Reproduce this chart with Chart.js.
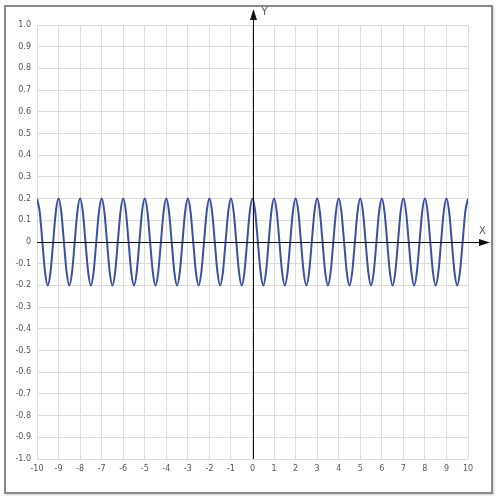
<!DOCTYPE html>
<html>
<head>
<meta charset="utf-8">
<script src="https://cdn.jsdelivr.net/npm/chart.js@4/dist/chart.umd.min.js"></script>
<style>
  html, body { margin: 0; padding: 0; background: #fff; }
  #wrap { position: relative; width: 500px; height: 500px; }
  #frame { position: absolute; left: 4px; top: 5px; width: 485px; height: 485px; border: 2px solid #8a8a8a; box-shadow: 1px 1px 2px #ccc; }
  canvas { position: absolute; left: 0; top: 0; }
</style>
</head>
<body>
<div id="wrap">
  <div id="frame"></div>
  <canvas id="chart" width="500" height="500"></canvas>
</div>
<script>
// points, every 1/8 unit
const xValues = [
  -10, -9.875, -9.75, -9.625, -9.5, -9.375, -9.25, -9.125,
  -9, -8.875, -8.75, -8.625, -8.5, -8.375, -8.25, -8.125,
  -8, -7.875, -7.75, -7.625, -7.5, -7.375, -7.25, -7.125,
  -7, -6.875, -6.75, -6.625, -6.5, -6.375, -6.25, -6.125,
  -6, -5.875, -5.75, -5.625, -5.5, -5.375, -5.25, -5.125,
  -5, -4.875, -4.75, -4.625, -4.5, -4.375, -4.25, -4.125,
  -4, -3.875, -3.75, -3.625, -3.5, -3.375, -3.25, -3.125,
  -3, -2.875, -2.75, -2.625, -2.5, -2.375, -2.25, -2.125,
  -2, -1.875, -1.75, -1.625, -1.5, -1.375, -1.25, -1.125,
  -1, -0.875, -0.75, -0.625, -0.5, -0.375, -0.25, -0.125,
  0, 0.125, 0.25, 0.375, 0.5, 0.625, 0.75, 0.875,
  1, 1.125, 1.25, 1.375, 1.5, 1.625, 1.75, 1.875,
  2, 2.125, 2.25, 2.375, 2.5, 2.625, 2.75, 2.875,
  3, 3.125, 3.25, 3.375, 3.5, 3.625, 3.75, 3.875,
  4, 4.125, 4.25, 4.375, 4.5, 4.625, 4.75, 4.875,
  5, 5.125, 5.25, 5.375, 5.5, 5.625, 5.75, 5.875,
  6, 6.125, 6.25, 6.375, 6.5, 6.625, 6.75, 6.875,
  7, 7.125, 7.25, 7.375, 7.5, 7.625, 7.75, 7.875,
  8, 8.125, 8.25, 8.375, 8.5, 8.625, 8.75, 8.875,
  9, 9.125, 9.25, 9.375, 9.5, 9.625, 9.75, 9.875,
  10
];
const yValues = [
  0.2, 0.14, 0, -0.14, -0.2, -0.14, 0, 0.14,
  0.2, 0.14, 0, -0.14, -0.2, -0.14, 0, 0.14,
  0.2, 0.14, 0, -0.14, -0.2, -0.14, 0, 0.14,
  0.2, 0.14, 0, -0.14, -0.2, -0.14, 0, 0.14,
  0.2, 0.14, 0, -0.14, -0.2, -0.14, 0, 0.14,
  0.2, 0.14, 0, -0.14, -0.2, -0.14, 0, 0.14,
  0.2, 0.14, 0, -0.14, -0.2, -0.14, 0, 0.14,
  0.2, 0.14, 0, -0.14, -0.2, -0.14, 0, 0.14,
  0.2, 0.14, 0, -0.14, -0.2, -0.14, 0, 0.14,
  0.2, 0.14, 0, -0.14, -0.2, -0.14, 0, 0.14,
  0.2, 0.14, 0, -0.14, -0.2, -0.14, 0, 0.14,
  0.2, 0.14, 0, -0.14, -0.2, -0.14, 0, 0.14,
  0.2, 0.14, 0, -0.14, -0.2, -0.14, 0, 0.14,
  0.2, 0.14, 0, -0.14, -0.2, -0.14, 0, 0.14,
  0.2, 0.14, 0, -0.14, -0.2, -0.14, 0, 0.14,
  0.2, 0.14, 0, -0.14, -0.2, -0.14, 0, 0.14,
  0.2, 0.14, 0, -0.14, -0.2, -0.14, 0, 0.14,
  0.2, 0.14, 0, -0.14, -0.2, -0.14, 0, 0.14,
  0.2, 0.14, 0, -0.14, -0.2, -0.14, 0, 0.14,
  0.2, 0.14, 0, -0.14, -0.2, -0.14, 0, 0.14,
  0.2
];
const xRange = [-10, 10];
const yRange = [-1, 1];

const points = xValues.map((x, i) => ({ x: x, y: yValues[i] }));

// axes through the origin with arrow heads
const originAxes = {
  id: 'originAxes',
  afterDatasetsDraw(chart) {
    const { ctx, chartArea, scales } = chart;
    const x0 = Math.round(scales.x.getPixelForValue(0)) + 0.5;
    const y0 = Math.round(scales.y.getPixelForValue(0)) + 0.5;
    ctx.save();
    ctx.strokeStyle = '#111';
    ctx.fillStyle = '#111';
    ctx.lineWidth = 1;
    ctx.beginPath();
    ctx.moveTo(x0, chartArea.bottom);
    ctx.lineTo(x0, 16);
    ctx.moveTo(chartArea.left, y0);
    ctx.lineTo(484, y0);
    ctx.stroke();
    ctx.beginPath();
    ctx.moveTo(x0, 9);
    ctx.lineTo(x0 - 3.5, 20);
    ctx.lineTo(x0 + 3.5, 20);
    ctx.closePath();
    ctx.fill();
    ctx.beginPath();
    ctx.moveTo(490, y0);
    ctx.lineTo(479, y0 - 3.5);
    ctx.lineTo(479, y0 + 3.5);
    ctx.closePath();
    ctx.fill();
    ctx.font = '10px "DejaVu Sans"';
    ctx.fillStyle = '#555';
    ctx.textAlign = 'left';
    ctx.textBaseline = 'middle';
    ctx.fillText('Y', x0 + 8, 12);
    ctx.fillText('X', 479, y0 - 11);
    ctx.restore();
  }
};

const ctx = document.getElementById('chart').getContext('2d');
new Chart(ctx, {
  type: 'scatter',
  data: {
    datasets: [{
      data: points,
      showLine: true,
      borderColor: '#3d4f9f',
      borderWidth: 2,
      pointRadius: 0,
      cubicInterpolationMode: 'monotone'
    }]
  },
  options: {
    responsive: false,
    animation: false,
    layout: { padding: { left: 0, top: 25, right: 32, bottom: 21 } },
    plugins: { legend: { display: false }, tooltip: { enabled: false } },
    scales: {
      x: {
        type: 'linear',
        min: xRange[0],
        max: xRange[1],
        afterFit(scale) { scale.height = 20; },
        border: { display: false },
        grid: { color: '#dcdcdc', drawTicks: false },
        ticks: {
          stepSize: 1,
          autoSkip: false,
          maxRotation: 0,
          padding: 5,
          color: '#555',
          font: { family: 'DejaVu Sans', size: 8 }
        }
      },
      y: {
        type: 'linear',
        min: yRange[0],
        max: yRange[1],
        afterFit(scale) { scale.width = 37; },
        border: { display: false },
        grid: { color: '#dcdcdc', drawTicks: false },
        ticks: {
          stepSize: 0.1,
          autoSkip: false,
          padding: 6,
          color: '#555',
          font: { family: 'DejaVu Sans', size: 8 },
          callback: (v) => Math.abs(v) < 1e-9 ? '0' : Number(v).toFixed(1)
        }
      }
    }
  },
  plugins: [originAxes]
});
</script>
</body>
</html>
